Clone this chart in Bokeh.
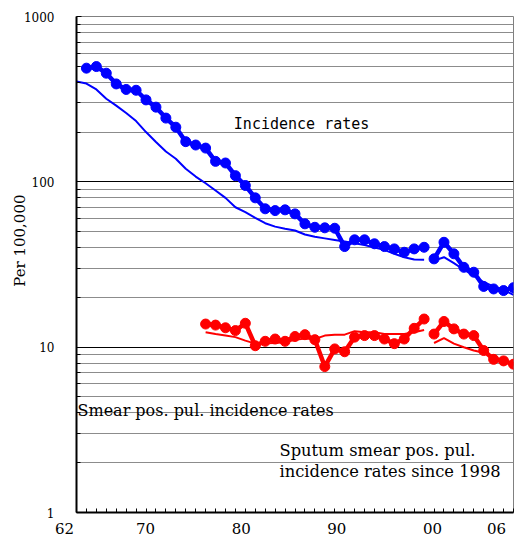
import math
from bokeh.plotting import figure
from bokeh.models import Range1d, FixedTicker, Label, PrintfTickFormatter
from bokeh.embed import file_html
from bokeh.resources import INLINE

# ---- data ----
years_inc_a = list(range(1963, 1998))
inc_a = [487, 498, 454, 391, 362, 358, 313, 283, 243, 214, 175, 167, 160, 133, 130,
         109, 95, 80, 68.7, 67, 67.7, 64, 55.7, 53.1, 52.7, 52.4, 40.6, 44.6, 44.6,
         42.2, 40.6, 39.3, 37.5, 39.3, 40.2]
years_b = list(range(1998, 2007))
inc_b = [34.2, 43.1, 36.7, 30.4, 28.4, 23.3, 22.5, 22.0, 22.9]

years_ref_a = list(range(1962, 1998))
ref_inc_a = [404, 393, 362, 318, 289, 261, 233, 200, 174, 152.5, 138, 120, 107.6, 98,
             88.6, 80, 70.2, 65.5, 60.6, 56.2, 53.6, 52.0, 50.8, 48.0, 46.5, 45.5, 44.5,
             43.5, 42.5, 41.5, 40.0, 38.8, 36.7, 35.0, 33.9, 33.8]
ref_inc_b = [33.4, 35.0, 32.2, 29.4, 27.1, 24.7, 23.3, 22.2, 20.7]

years_sm_a = list(range(1975, 1998))
smear_a = [13.8, 13.6, 13.1, 12.6, 13.95, 10.2, 10.85, 11.2, 10.85, 11.6, 11.9, 11.1,
           7.63, 9.76, 9.38, 11.5, 11.75, 11.75, 11.2, 10.5, 11.2, 13.0, 14.8]
smear_b = [12.0, 14.3, 12.9, 12.0, 11.75, 9.54, 8.44, 8.26, 7.89]
ref_smear_a = [12.3, 12.0, 11.75, 11.5, 10.96, 10.5, 10.56, 10.6, 10.7, 11.07, 11.3, 11.2,
               11.75, 11.9, 11.9, 12.5, 12.3, 12.3, 12.0, 12.0, 12.0, 12.3, 12.7]
ref_smear_b = [10.6, 11.35, 10.5, 9.99, 9.54, 9.25, 8.74, 8.26, 7.74]

# x tick labels (the "62" label sits left of the axis start)
NB = "\u00a0"
x_tick_pos = [1962, 1968.95, 1978.6, 1988.2, 1997.85, 2004.3]
x_tick_labels = ["62" + NB * 5, "70", "80", "90", "00", "06"]
y_ticks = [1, 10, 100, 1000]
y_minor = [m * d for d in (1, 10, 100) for m in range(2, 10)]
y_title = "Per 100,000"

SERIF = "DejaVu Serif"

p = figure(width=514, height=543, y_axis_type="log",
           x_range=Range1d(1962, 2006), y_range=Range1d(1, 1000),
           output_backend="svg", toolbar_location=None,
           min_border_left=76, min_border_right=1, min_border_top=16, min_border_bottom=31)
p.title.visible = False
p.background_fill_color = "white"
p.border_fill_color = "white"
p.outline_line_color = "#808080"

# grid
p.xgrid.visible = False
p.ygrid.ticker = FixedTicker(ticks=y_ticks, minor_ticks=y_minor)
p.ygrid.grid_line_color = "black"
p.ygrid.grid_line_width = 1
p.ygrid.minor_grid_line_color = "#8c8c8c"
p.ygrid.minor_grid_line_width = 1

# y axis
p.yaxis.ticker = FixedTicker(ticks=y_ticks, minor_ticks=y_minor)
p.yaxis.formatter = PrintfTickFormatter(format="%d")
p.yaxis.major_tick_in = 5
p.yaxis.major_tick_out = 0
p.yaxis.minor_tick_in = 4
p.yaxis.minor_tick_out = 0
p.yaxis.major_label_standoff = 22
p.yaxis.major_label_text_font = SERIF
p.yaxis.major_label_text_font_size = "12px"
p.yaxis.major_label_text_color = "black"
p.yaxis.axis_line_color = "black"
p.yaxis.axis_line_width = 2
# axis title, lifted a little above the frame centre as in the original
p.yaxis.axis_label = NB * 10 + y_title
p.yaxis.axis_label_standoff = -8
p.yaxis.axis_label_text_font = SERIF
p.yaxis.axis_label_text_font_size = "15px"
p.yaxis.axis_label_text_font_style = "normal"
p.yaxis.axis_label_text_color = "black"

# x axis
x_minor = [1962 + k for k in range(0, 45)]
p.xaxis.ticker = FixedTicker(ticks=x_tick_pos, minor_ticks=x_minor)
p.xaxis.major_label_overrides = dict(zip(x_tick_pos, x_tick_labels))
p.xaxis.major_tick_in = 0
p.xaxis.major_tick_out = 0
p.xaxis.minor_tick_in = 4
p.xaxis.minor_tick_out = 0
p.xaxis.major_label_standoff = 7
p.xaxis.major_label_text_font = SERIF
p.xaxis.major_label_text_font_size = "15px"
p.xaxis.major_label_text_color = "black"
p.xaxis.axis_line_color = "black"
p.xaxis.axis_line_width = 2

BLUE = "#0000ff"
RED = "#ff0000"

# thin reference lines
p.line(years_ref_a, ref_inc_a, line_color=BLUE, line_width=2)
p.line(years_b, ref_inc_b, line_color=BLUE, line_width=2)
p.line(years_sm_a, ref_smear_a, line_color=RED, line_width=2)
p.line(years_b, ref_smear_b, line_color=RED, line_width=2)

# thick dotted series
for xs, ys, c in [(years_inc_a, inc_a, BLUE), (years_b, inc_b, BLUE),
                  (years_sm_a, smear_a, RED), (years_b, smear_b, RED)]:
    p.line(xs, ys, line_color=c, line_width=4.5)
    p.scatter(xs, ys, size=10, fill_color=c, line_color=c)

# texts
p.add_layout(Label(x=1984.66, y=225, text="Incidence rates", text_align="center",
                   text_baseline="middle", text_font="DejaVu Sans Mono",
                   text_font_size="15px", text_color="black"))
p.add_layout(Label(x=1962.1, y=4.14, text="Smear pos. pul. incidence rates",
                   text_align="left", text_baseline="middle",
                   text_font=SERIF, text_font_size="16px", text_color="black"))
p.add_layout(Label(x=1982.44, y=2.37, text="Sputum smear pos. pul.",
                   text_align="left", text_baseline="middle",
                   text_font=SERIF, text_font_size="16.3px", text_color="black"))
p.add_layout(Label(x=1982.44, y=1.77, text="incidence rates since 1998",
                   text_align="left", text_baseline="middle",
                   text_font=SERIF, text_font_size="16.3px", text_color="black"))

open("out.html", "w").write(file_html(p, INLINE))
